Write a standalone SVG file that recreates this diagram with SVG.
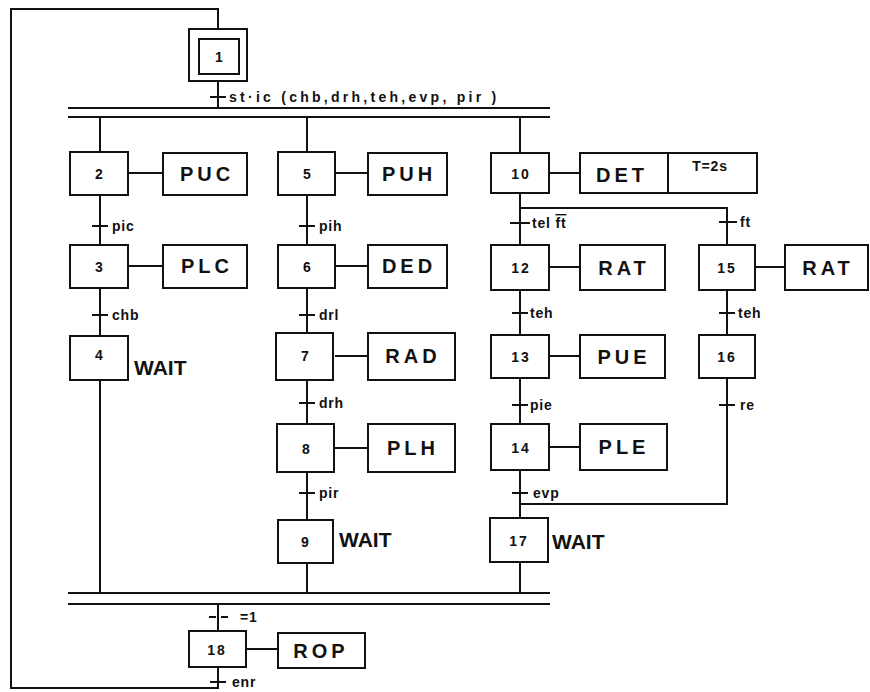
<svg xmlns="http://www.w3.org/2000/svg" width="870" height="692" viewBox="0 0 870 692">
<style>
  .box { fill: #fff; stroke: #111; stroke-width: 2; }
  .ln { fill: none; stroke: #111; stroke-width: 2; }
  .num { font-family: "Liberation Sans", Arial, sans-serif; font-weight: bold; font-size: 14px; fill: #111; text-anchor: middle; letter-spacing: 2px; }
  .act { font-family: "Liberation Sans", Arial, sans-serif; font-weight: bold; font-size: 20px; fill: #111; text-anchor: middle; letter-spacing: 4px; }
  .wait { font-family: "Liberation Sans", Arial, sans-serif; font-weight: bold; font-size: 21px; fill: #111; }
  .tr { font-family: "Liberation Sans", Arial, sans-serif; font-weight: bold; font-size: 14px; fill: #111; letter-spacing: 0.8px; }
</style>
<rect width="870" height="692" fill="#fff"/>

<g id="connectors">
  <path class="ln" d="M218,29 V9 H11 V688 H218 V667"/>
  <path class="ln" d="M218,81 V108"/>
  <path class="ln" d="M210,97 H226"/>
  <path class="ln" d="M68,108 H550 M68,117 H550"/>
  <path class="ln" d="M68,593 H550 M68,604 H550"/>
  <path class="ln" d="M100,117 V152 M100,195 V245 M100,288 V336 M100,380 V593"/>
  <path class="ln" d="M92,226 H108 M92,315 H108"/>
  <path class="ln" d="M128,173 H163 M128,266 H163"/>
  <path class="ln" d="M307,117 V152 M307,195 V245 M307,288 V333 M307,380 V424 M307,472 V520 M307,563 V593"/>
  <path class="ln" d="M299,226 H315 M299,315 H315 M299,403 H315 M299,493 H315"/>
  <path class="ln" d="M335,173 H368 M335,266 H368 M335,356 H368 M335,448 H368"/>
  <path class="ln" d="M520,117 V153 M520,193 V245 M520,290 V335 M520,378 V424 M520,470 V518 M520,562 V593"/>
  <path class="ln" d="M520,208 H727 V245 M727,290 V335 M727,378 V504 H520"/>
  <path class="ln" d="M510,223 H530 M719,222 H737 M512,313 H528 M719,313 H735 M512,405 H528 M719,405 H735 M512,493 H528"/>
  <path class="ln" d="M549,173 H580 M549,267 H580 M755,267 H785 M549,356 H580 M549,447 H580"/>
  <path class="ln" d="M218,604 V631"/>
  <path class="ln" d="M209,617 H216 M221,617 H228"/>
  <path class="ln" d="M246,649 H278"/>
  <path class="ln" d="M210,682 H226"/>
  <text class="tr" x="229" y="102" font-size="15" textLength="268" lengthAdjust="spacing">st·ic (chb,drh,teh,evp, pir )</text>
  <text class="tr" x="112" y="231">pic</text>
  <text class="tr" x="112" y="320">chb</text>
  <text class="tr" x="319" y="231">pih</text>
  <text class="tr" x="319" y="320">drl</text>
  <text class="tr" x="319" y="408">drh</text>
  <text class="tr" x="319" y="498">pir</text>
  <text class="tr" x="532" y="228">tel <tspan text-decoration="overline">ft</tspan></text>
  <text class="tr" x="740" y="227">ft</text>
  <text class="tr" x="530" y="318">teh</text>
  <text class="tr" x="738" y="318">teh</text>
  <text class="tr" x="530" y="410">pie</text>
  <text class="tr" x="740" y="410">re</text>
  <text class="tr" x="533" y="498">evp</text>
  <text class="tr" x="240" y="622">=1</text>
  <text class="tr" x="232" y="687">enr</text>
</g>

<g id="step1">
  <rect class="box" x="189" y="29" width="58" height="52"/>
  <rect class="box" x="199" y="39" width="40" height="35"/>
  <text class="num" x="220" y="62">1</text>
</g>

<g id="step2"><rect class="box" x="70" y="152" width="58" height="43"/><text class="num" x="100" y="179">2</text></g>
<g id="act-PUC"><rect class="box" x="163" y="153" width="84" height="42"/><text class="act" x="207" y="181">PUC</text></g>
<g id="step3"><rect class="box" x="70" y="245" width="58" height="43"/><text class="num" x="100" y="272">3</text></g>
<g id="act-PLC"><rect class="box" x="163" y="245" width="84" height="43"/><text class="act" x="207" y="273">PLC</text></g>
<g id="step4"><rect class="box" x="70" y="336" width="58" height="44"/><text class="num" x="100" y="360">4</text><text class="wait" x="134" y="375">WAIT</text></g>

<g id="step5"><rect class="box" x="278" y="152" width="57" height="43"/><text class="num" x="308" y="179">5</text></g>
<g id="act-PUH"><rect class="box" x="368" y="153" width="79" height="42"/><text class="act" x="409" y="181">PUH</text></g>
<g id="step6"><rect class="box" x="278" y="245" width="57" height="43"/><text class="num" x="308" y="272">6</text></g>
<g id="act-DED"><rect class="box" x="368" y="245" width="79" height="43"/><text class="act" x="409" y="273">DED</text></g>
<g id="step7"><rect class="box" x="276" y="333" width="57" height="47"/><text class="num" x="306" y="361">7</text></g>
<g id="act-RAD"><rect class="box" x="368" y="333" width="87" height="47"/><text class="act" x="413" y="363">RAD</text></g>
<g id="step8"><rect class="box" x="277" y="424" width="57" height="48"/><text class="num" x="307" y="454">8</text></g>
<g id="act-PLH"><rect class="box" x="368" y="424" width="87" height="48"/><text class="act" x="413" y="455">PLH</text></g>
<g id="step9"><rect class="box" x="278" y="520" width="55" height="43"/><text class="num" x="306" y="547">9</text><text class="wait" x="339" y="547">WAIT</text></g>

<g id="step10"><rect class="box" x="491" y="153" width="58" height="40"/><text class="num" x="521" y="179">10</text></g>
<g id="act-DET"><rect class="box" x="580" y="153" width="177" height="40"/><path class="ln" d="M668,153 V193"/><text class="act" x="622" y="182">DET</text><text class="tr" x="710" y="171" text-anchor="middle" font-size="12">T=2s</text></g>
<g id="step12"><rect class="box" x="491" y="245" width="58" height="45"/><text class="num" x="521" y="273">12</text></g>
<g id="act-RAT12"><rect class="box" x="580" y="245" width="85" height="45"/><text class="act" x="624" y="275">RAT</text></g>
<g id="step15"><rect class="box" x="699" y="245" width="56" height="45"/><text class="num" x="727" y="273">15</text></g>
<g id="act-RAT15"><rect class="box" x="785" y="245" width="83" height="45"/><text class="act" x="828" y="275">RAT</text></g>
<g id="step13"><rect class="box" x="491" y="335" width="58" height="43"/><text class="num" x="521" y="362">13</text></g>
<g id="act-PUE"><rect class="box" x="580" y="335" width="85" height="43"/><text class="act" x="624" y="364">PUE</text></g>
<g id="step16"><rect class="box" x="699" y="335" width="56" height="43"/><text class="num" x="727" y="362">16</text></g>
<g id="step14"><rect class="box" x="491" y="424" width="58" height="46"/><text class="num" x="521" y="453">14</text></g>
<g id="act-PLE"><rect class="box" x="580" y="424" width="87" height="46"/><text class="act" x="624" y="454">PLE</text></g>
<g id="step17"><rect class="box" x="490" y="518" width="58" height="44"/><text class="num" x="519" y="546">17</text><text class="wait" x="552" y="549">WAIT</text></g>

<g id="step18"><rect class="box" x="189" y="631" width="57" height="36"/><text class="num" x="217" y="655">18</text></g>
<g id="act-ROP"><rect class="box" x="278" y="633" width="87" height="35"/><text class="act" x="321" y="658">ROP</text></g>
</svg>
